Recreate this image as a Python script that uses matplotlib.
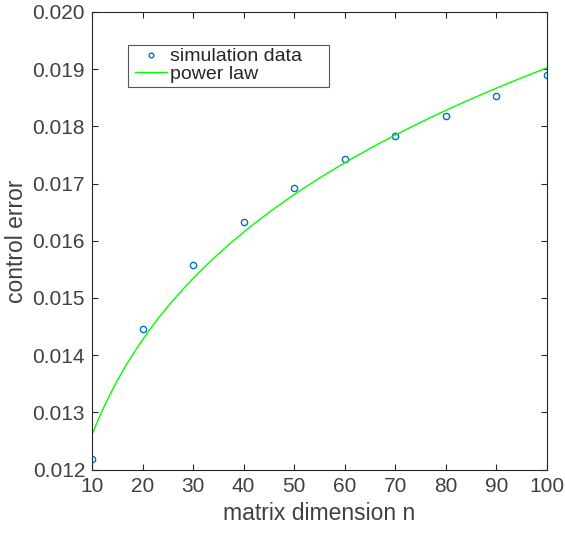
import numpy as np
import matplotlib

matplotlib.use("Agg")
import matplotlib.pyplot as plt
from matplotlib.patches import Rectangle

# control error vs matrix size, from the sims
n_vals = [10, 20, 30, 40, 50, 60, 70, 80, 90, 100]
err_vals = [0.01218, 0.01446, 0.01558, 0.01632, 0.01692, 0.01743, 0.01784, 0.01818, 0.01854, 0.01890]

x_ticks = [10, 20, 30, 40, 50, 60, 70, 80, 90, 100]
y_ticks = [0.012, 0.013, 0.014, 0.015, 0.016, 0.017, 0.018, 0.019, 0.020]


def fit_power(x, y):
    # y = a * x^b, start from log-log line then a few gauss-newton steps
    x = np.asarray(x, float)
    y = np.asarray(y, float)
    b, la = np.polyfit(np.log(x), np.log(y), 1)
    a = np.exp(la)
    for _ in range(20):
        f = a * x**b
        J = np.column_stack([x**b, a * x**b * np.log(x)])
        step = np.linalg.lstsq(J, y - f, rcond=None)[0]
        a += step[0]
        b += step[1]
    return a, b


a, b = fit_power(n_vals, err_vals)
xx = np.linspace(10, 100, 300)

plt.rcParams["font.family"] = ["Liberation Sans", "DejaVu Sans"]
txt = "#404040"

fig = plt.figure(figsize=(5.65, 5.33), dpi=100)
ax = fig.add_axes([0.1628, 0.119, 0.8052, 0.8585])

ax.plot(n_vals, err_vals, "o", mfc="none", mec="#0072BD", ms=4.5, mew=1.0, label="simulation data")
ax.plot(xx, a * xx**b, color="#00FF00", lw=1.0, label="power law")

ax.set_xlim(10, 100)
ax.set_ylim(0.012, 0.020)
ax.set_xticks(x_ticks)
ax.set_yticks(y_ticks)
ax.set_yticklabels(["%.3f" % v for v in y_ticks])
ax.tick_params(direction="in", top=True, right=True, length=4, width=0.8,
               labelsize=15, colors="#262626", labelcolor=txt, pad=5)
for s in ax.spines.values():
    s.set_color("#262626")
    s.set_linewidth(0.8)

ax.set_xlabel("matrix dimension n", fontsize=16.5, color=txt, labelpad=5)
ax.set_ylabel("control error", fontsize=16.5, color=txt, labelpad=3)

# matlab-style legend box is wider than the entries, so draw the frame by hand
ax.add_patch(Rectangle((0.0791, 0.8361), 0.4418, 0.0918, transform=ax.transAxes,
                       facecolor="white", edgecolor="#555555", lw=0.8, zorder=4))
leg = ax.legend(loc="upper left", bbox_to_anchor=(0.0879, 0.928), fontsize=14,
                frameon=False, markerscale=0.75,
                handlelength=1.65, handletextpad=0.15, borderpad=0.15,
                labelspacing=0.0, borderaxespad=0)
leg.set_zorder(5)
for t in leg.get_texts():
    t.set_color("#262626")

fig.savefig("out.png", dpi=100)
